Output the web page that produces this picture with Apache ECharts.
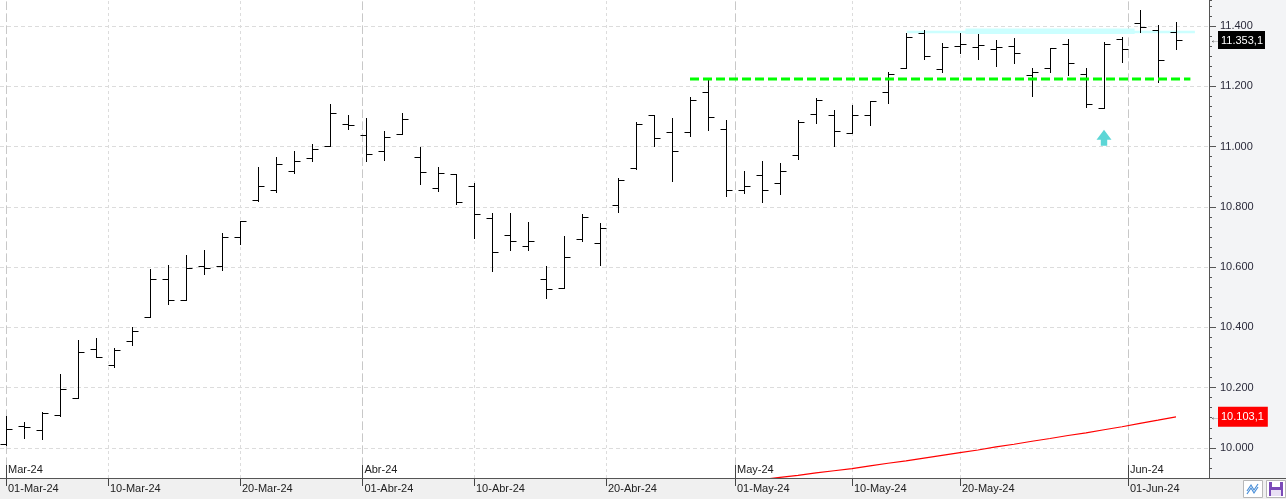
<!DOCTYPE html>
<html>
<head>
<meta charset="utf-8">
<script src="https://cdn.jsdelivr.net/npm/echarts@6/dist/echarts.min.js"></script>
<style>
  html, body { margin: 0; padding: 0; background: #fff; }
  #chart { width: 1286px; height: 499px; }
</style>
</head>
<body>
<div id="chart"></div>
<script>
// trading days shown on the chart
var dates = [
  '2024-03-01','2024-03-04','2024-03-05','2024-03-06','2024-03-07','2024-03-08',
  '2024-03-11','2024-03-12','2024-03-13','2024-03-14','2024-03-15',
  '2024-03-18','2024-03-19','2024-03-20','2024-03-21','2024-03-22',
  '2024-03-25','2024-03-26','2024-03-27','2024-03-28',
  '2024-04-02','2024-04-03','2024-04-04','2024-04-05',
  '2024-04-08','2024-04-09','2024-04-10','2024-04-11','2024-04-12',
  '2024-04-15','2024-04-16','2024-04-17','2024-04-18','2024-04-19',
  '2024-04-22','2024-04-23','2024-04-24','2024-04-25','2024-04-26',
  '2024-04-29','2024-04-30',
  '2024-05-02','2024-05-03',
  '2024-05-06','2024-05-07','2024-05-08','2024-05-09','2024-05-10',
  '2024-05-13','2024-05-14','2024-05-15','2024-05-16','2024-05-17',
  '2024-05-20','2024-05-21','2024-05-22','2024-05-23','2024-05-24',
  '2024-05-27','2024-05-28','2024-05-29','2024-05-30','2024-05-31',
  '2024-06-03','2024-06-04','2024-06-05'
];
var opens = [10014,10072,10060,10110,10166,10329,10276,10355,10435,10561,10491,10604,10604,10700,
  10823,10856,10919,10962,11002,11075,11038,10985,11042,10966,10863,10909,10869,10763,10707,10670,
  10561,10531,10694,10681,10806,10929,11105,11048,11048,11181,11058,10856,10906,10879,10972,11108,
  11105,11045,11105,11181,11261,11377,11257,11334,11330,11324,11334,11238,11261,11340,11241,11128,
  11357,11410,11387,11380];
var highs = [10107,10087,10120,10246,10359,10365,10332,10402,10594,10607,10641,10657,10713,10753,
  10932,10966,10985,11009,11141,11105,11095,11052,11112,10999,10932,10909,10879,10780,10780,10750,
  10604,10704,10777,10747,10896,11082,11105,11095,11165,11221,11088,10919,10952,10946,11088,11161,
  11121,11138,11151,11247,11377,11387,11344,11377,11373,11354,11360,11261,11327,11357,11261,11347,
  11364,11453,11403,11413];
var lows = [10010,10034,10030,10107,10166,10302,10269,10342,10435,10478,10491,10578,10591,10677,
  10820,10849,10912,10952,11002,11058,10952,10956,11042,10876,10853,10810,10697,10587,10657,10657,
  10498,10531,10687,10607,10783,10926,11002,10886,11035,11055,10836,10846,10816,10843,10959,11078,
  11002,11045,11072,11145,11261,11291,11247,11310,11291,11267,11277,11168,11247,11238,11131,11128,
  11281,11380,11214,11324];
var closes = [10063,10070,10117,10196,10319,10302,10325,10389,10561,10491,10598,10598,10700,10753,
  10869,10942,10952,10992,11112,11072,10976,11032,11092,10916,10913,10816,10777,10650,10687,10687,
  10528,10634,10767,10730,10889,11075,11029,10985,11155,11098,10856,10869,10856,10919,11082,11155,
  11052,11105,11151,11241,11364,11300,11330,11340,11337,11330,11310,11247,11327,11277,11141,11340,
  11324,11397,11287,11353.1];
// moving average, visible part (starts at trading day index maStart)
var maStart = 42;
var maValues = [9895,9902,9909,9917,9924,9931,9940,9949,9957,9966,9975,9984,9993,10003,10012,
  10022,10031,10041,10050,10060,10070,10081,10092,10103.1];

// axis labels
var labelDates = ['2024-03-01','2024-03-10','2024-03-20','2024-04-01','2024-04-10','2024-04-20',
  '2024-05-01','2024-05-10','2024-05-20','2024-06-01'];
var dateLabels = ['01-Mar-24','10-Mar-24','20-Mar-24','01-Abr-24','10-Abr-24','20-Abr-24',
  '01-May-24','10-May-24','20-May-24','01-Jun-24'];
var monthDates = ['2024-03-01','2024-04-01','2024-05-01','2024-06-01'];
var monthLabels = ['Mar-24','Abr-24','May-24','Jun-24'];
var priceTicks = [10000,10200,10400,10600,10800,11000,11200,11400];

// drawn annotations
var supportLevel = 11224, supportFrom = 38, supportTo = 65.8;
var resistLevel = 11380, resistFrom = 50.05, resistTo = 66.05;
var resistCore = 11382, resistCoreFrom = 53.3, resistCoreTo = 62.7;
var arrowPoint = [61, 11029];

var FONT = "'Liberation Sans Narrow', 'Arial Narrow', 'Liberation Sans', sans-serif";

function dayNum(s) {
  var p = s.split('-');
  return Date.UTC(+p[0], +p[1] - 1, +p[2]) / 86400000;
}
// calendar date -> fractional trading index
function datePos(s) {
  var d = dayNum(s);
  for (var i = 0; i < dates.length - 1; i++) {
    var a = dayNum(dates[i]), b = dayNum(dates[i + 1]);
    if (d >= a && d < b) return i + (d - a) / (b - a);
  }
  return dates.length - 1;
}
function fmt(v, dec) {
  var s = v.toFixed(dec).split('.');
  var ip = s[0].replace(/\B(?=(\d{3})+(?!\d))/g, '.');
  return dec ? ip + ',' + s[1] : ip;
}

var labelPos = labelDates.map(datePos);
var monthPos = monthDates.map(datePos);

var ohlc = dates.map(function (d, i) {
  return [i, opens[i], highs[i], lows[i], closes[i]];
});
var maData = maValues.map(function (v, i) { return [maStart + i, v]; });
var lastClose = closes[closes.length - 1];
var lastMa = maValues[maValues.length - 1];

function renderBar(params, api) {
  var x = api.value(0);
  var o = api.coord([x, api.value(1)]);
  var h = api.coord([x, api.value(2)]);
  var l = api.coord([x, api.value(3)]);
  var c = api.coord([x, api.value(4)]);
  var px = Math.round(o[0]) + 0.5;
  var oy = Math.round(o[1]) + 0.5, cy = Math.round(c[1]) + 0.5;
  var st = { stroke: '#000', lineWidth: 1 };
  return {
    type: 'group',
    children: [
      { type: 'line', shape: { x1: px, y1: Math.round(h[1]), x2: px, y2: Math.round(l[1]) + 1 }, style: st },
      { type: 'line', shape: { x1: px - 6, y1: oy, x2: px, y2: oy }, style: st },
      { type: 'line', shape: { x1: px, y1: cy, x2: px + 6, y2: cy }, style: st }
    ]
  };
}

var yMin = 9900, yMax = 11486;
var xMin = -1 / 3, xMax = 1203 / 18;

var gridLines = [];
labelPos.forEach(function (p) {
  gridLines.push({ xAxis: p, lineStyle: { color: '#dcdcdc', type: [3, 3], width: 1 } });
});
monthPos.forEach(function (p) {
  gridLines.push({ xAxis: p, lineStyle: { color: '#c8c8c8', type: [8, 4], width: 1 } });
});
priceTicks.forEach(function (v) {
  gridLines.push({ yAxis: v, lineStyle: { color: '#dcdcdc', type: [4, 3], width: 1 } });
});

var chart = echarts.init(document.getElementById('chart'));
chart.setOption({
  animation: false,
  backgroundColor: '#fff',
  textStyle: { fontFamily: FONT },
  grid: { left: 0, right: 77, top: 0, bottom: 21 },
  graphic: { elements: [
    { type: 'rect', z: -10, shape: { x: 1209, y: 0, width: 77, height: 478 }, style: { fill: '#f3f4f6' } },
    { type: 'rect', z: -10, shape: { x: 0, y: 478, width: 1286, height: 21 }, style: { fill: '#f0f0f0' } },
    { type: 'line', z: 50, shape: { x1: 0, y1: 478.5, x2: 1286, y2: 478.5 }, style: { stroke: '#555', lineWidth: 1 } },
    { type: 'rect', z: 50, shape: { x: 1243.5, y: 480.5, width: 19, height: 17 }, style: { fill: '#fff', stroke: '#b8b8b8' } },
    { type: 'polyline', z: 51, shape: { points: [[1247, 491], [1251, 485], [1254, 490], [1258, 484]] }, style: { stroke: '#4a8fd8', lineWidth: 1.2, fill: null } },
    { type: 'polyline', z: 51, shape: { points: [[1247, 494], [1251, 488], [1254, 493], [1258, 487]] }, style: { stroke: '#4a8fd8', lineWidth: 1.2, fill: null } },
    { type: 'rect', z: 50, shape: { x: 1266.5, y: 480.5, width: 19, height: 17 }, style: { fill: '#fff', stroke: '#b8b8b8' } },
    { type: 'rect', z: 51, shape: { x: 1269, y: 482, width: 14, height: 14 }, style: { fill: '#7b4bb8' } },
    { type: 'rect', z: 52, shape: { x: 1272, y: 482, width: 8, height: 5 }, style: { fill: '#fff' } },
    { type: 'rect', z: 52, shape: { x: 1271, y: 490, width: 10, height: 6 }, style: { fill: '#e9e0f5' } }
  ] },
  xAxis: [
    {
      type: 'value', min: xMin, max: xMax, position: 'bottom',
      axisLine: { show: true, onZero: false, lineStyle: { color: '#555' } },
      splitLine: { show: false },
      axisTick: { show: true, customValues: labelPos, length: 8, lineStyle: { color: '#444' } },
      axisLabel: {
        customValues: labelPos, margin: 5, align: 'left', padding: [0, 0, 0, 2],
        color: '#222', fontSize: 11, fontFamily: FONT,
        formatter: function (v) {
          for (var i = 0; i < labelPos.length; i++) if (Math.abs(labelPos[i] - v) < 1e-6) return dateLabels[i];
          return '';
        }
      }
    },
    {
      type: 'value', min: xMin, max: xMax, position: 'bottom',
      axisLine: { show: false, onZero: false },
      splitLine: { show: false },
      axisTick: { show: true, inside: true, customValues: monthPos, length: 13, lineStyle: { color: '#444' } },
      axisLabel: {
        customValues: monthPos, inside: true, margin: 3, align: 'left', padding: [0, 0, 0, 2],
        color: '#222', fontSize: 11, fontFamily: FONT,
        formatter: function (v) {
          for (var i = 0; i < monthPos.length; i++) if (Math.abs(monthPos[i] - v) < 1e-6) return monthLabels[i];
          return '';
        }
      }
    }
  ],
  yAxis: [
    {
      type: 'value', min: yMin, max: yMax, position: 'right',
      axisLine: { show: true, onZero: false, lineStyle: { color: '#555' } },
      splitLine: { show: false },
      axisTick: { show: true, customValues: priceTicks, length: 7, lineStyle: { color: '#555' } },
      axisLabel: {
        customValues: priceTicks, margin: 11, color: '#2a2a3a', fontSize: 11, fontFamily: FONT,
        formatter: function (v) { return fmt(v, 0); }
      }
    },
    {
      type: 'value', min: yMin, max: yMax, interval: 100 / 3, position: 'right',
      axisLine: { show: false, onZero: false }, splitLine: { show: false }, axisLabel: { show: false },
      axisTick: { show: true, length: 3, lineStyle: { color: '#555' } }
    },
    {
      type: 'value', min: yMin, max: yMax, position: 'right',
      axisLine: { show: false, onZero: false }, splitLine: { show: false }, axisTick: { show: false },
      axisLabel: {
        customValues: [lastClose, lastMa], margin: 1, fontFamily: FONT,
        formatter: function (v) {
          if (Math.abs(v - lastClose) < 1e-6) return '{a|←}{k|' + fmt(v, 1) + '}';
          return '{a|←}{r|' + fmt(v, 1) + '}';
        },
        rich: {
          a: { width: 8, fontSize: 10, color: '#444', fontFamily: FONT },
          k: { backgroundColor: '#000', color: '#fff', fontSize: 11, padding: [4, 2, 3, 3], fontFamily: FONT },
          r: { backgroundColor: '#ff0000', color: '#fff', fontSize: 11, padding: [5, 4, 4, 3], fontFamily: FONT }
        }
      }
    }
  ],
  series: [
    {
      name: 'grid', type: 'line', data: [], z: 1, silent: true,
      markLine: { z: 0, silent: true, symbol: ['none', 'none'], label: { show: false }, animation: false, data: gridLines }
    },
    {
      name: 'resist', type: 'line', z: 2, silent: true, symbol: 'none',
      data: [[resistFrom, resistLevel], [resistTo, resistLevel]],
      lineStyle: { color: '#ccffff', width: 2.5 }
    },
    {
      name: 'resistCore', type: 'line', z: 2, silent: true, symbol: 'none',
      data: [[resistCoreFrom, resistCore], [resistCoreTo, resistCore]],
      lineStyle: { color: '#ccffff', width: 5.5 }
    },
    {
      name: 'MA', type: 'line', z: 3, symbol: 'none', data: maData, clip: true,
      lineStyle: { color: '#ff0000', width: 1.2 }
    },
    {
      name: 'OHLC', type: 'custom', z: 4, data: ohlc, renderItem: renderBar,
      encode: { x: 0, y: [1, 2, 3, 4] }, clip: true
    },
    {
      name: 'support', type: 'line', z: 5, silent: true, symbol: 'none',
      data: [[supportFrom, supportLevel], [supportTo, supportLevel]],
      lineStyle: { color: '#00ff00', width: 3, type: [9, 4] }
    },
    {
      name: 'arrow', type: 'scatter', z: 5, silent: true, data: [arrowPoint],
      symbol: 'path://M7,0 L14,10 L10,10 L10,16 L4,16 L4,10 L0,10 Z', symbolSize: [15, 16],
      itemStyle: { color: '#33cccc' }
    }
  ]
});
</script>
</body>
</html>
